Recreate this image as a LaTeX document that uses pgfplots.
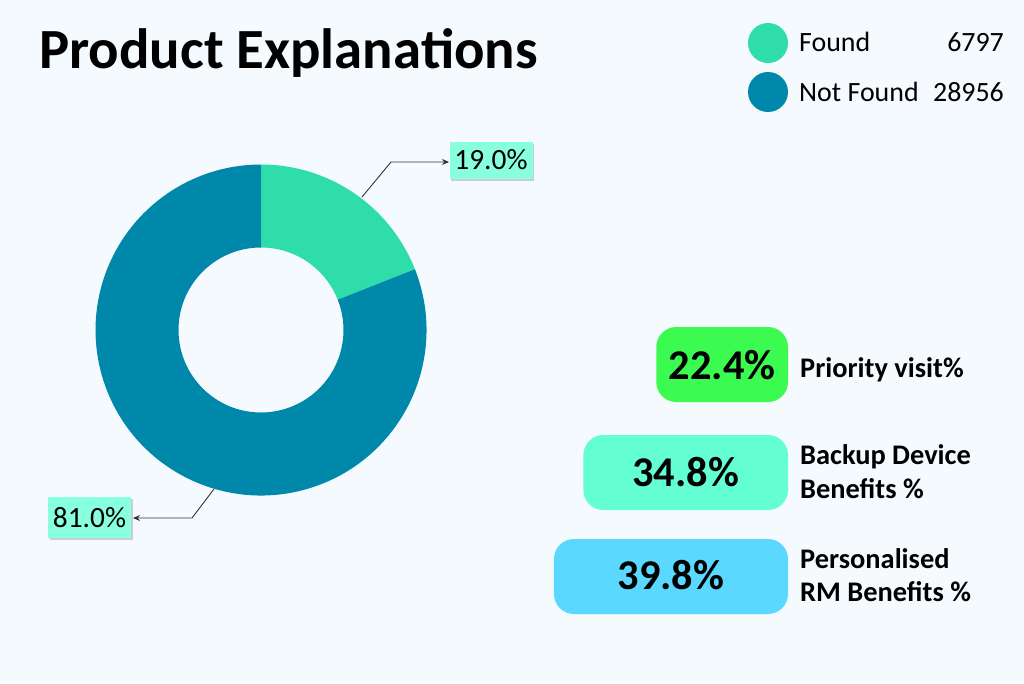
\documentclass[border=0pt]{standalone}
\usepackage{pgfplots}
\pgfplotsset{compat=1.18}
\usepackage{pgfplotstable}
\usepackage{fontspec}
\setmainfont{Carlito}
\usetikzlibrary{shadows,arrows.meta}

\definecolor{bg}{HTML}{F5FAFF}
\definecolor{found}{HTML}{2EDDAA}
\definecolor{notfound}{HTML}{0088AA}
\definecolor{lbl}{HTML}{88FFDD}
\definecolor{barA}{HTML}{3CFB50}
\definecolor{barB}{HTML}{63FFD2}
\definecolor{barC}{HTML}{5BD8FF}

\pgfplotstableread{
label value
Found 6797
NotFound 28956
}\donut

\begin{document}
\begin{tikzpicture}
\pgfplotstablegetelem{0}{value}\of\donut \let\vA\pgfplotsretval
\pgfplotstablegetelem{1}{value}\of\donut \let\vB\pgfplotsretval
\edef\angA{\fpeval{round(360*\vA/(\vA+\vB),3)}}
\edef\endA{\fpeval{90-\angA}}
\begin{axis}[at={(0,0)}, anchor=south west, width=1024bp, height=683bp, scale only axis, hide axis,
  xmin=0, xmax=1024, ymin=0, ymax=683, y dir=reverse, clip=false]
\addplot[draw=none] coordinates {(0,0) (1024,683)};
\fill[bg] (axis cs:0,0) rectangle (axis cs:1024,683);
% donut
\fill[found] (axis cs:261,164.5) arc[start angle=90, end angle=\endA, radius=165.5bp]
  -- (axis cs:{261+82.5*cos(\endA)},{330-82.5*sin(\endA)}) arc[start angle=\endA, end angle=90, radius=82.5bp] -- cycle;
\fill[notfound] (axis cs:{261+165.5*cos(\endA)},{330-165.5*sin(\endA)}) arc[start angle=\endA, end angle=-270, radius=165.5bp]
  -- (axis cs:261,247.5) arc[start angle=-270, end angle=\endA, radius=82.5bp] -- cycle;
% title
\node[anchor=base west, inner sep=0, font=\bfseries\fontsize{57}{60}\selectfont] at (axis cs:39,69) {Product Explanations};
% legend
\fill[found] (axis cs:768,43) circle[radius=20bp];
\fill[notfound] (axis cs:768,92) circle[radius=20bp];
\node[anchor=base west, inner sep=0, font=\fontsize{28}{30}\selectfont] at (axis cs:799,52) {Found};
\node[anchor=base east, inner sep=0, font=\fontsize{28}{30}\selectfont] at (axis cs:1004,52) {6797};
\node[anchor=base west, inner sep=0, font=\fontsize{28}{30}\selectfont] at (axis cs:799,101.5) {Not Found};
\node[anchor=base east, inner sep=0, font=\fontsize{28}{30}\selectfont] at (axis cs:1004,101.5) {28956};
% labels
\draw[-{Stealth[length=7bp,width=6bp]}, line width=0.9bp, black!80] (axis cs:362,197) -- (axis cs:391,162) -- (axis cs:449,162);
\node[fill=lbl, drop shadow={shadow xshift=1.5bp, shadow yshift=-1.5bp, opacity=0.35}, minimum width=83bp, minimum height=37bp, inner sep=0] at (axis cs:491,160.5) {};
\node[anchor=base, inner sep=0, font=\fontsize{29.5}{30}\selectfont] at (axis cs:491,169) {19.0\%};
\draw[-{Stealth[length=7bp,width=6bp]}, line width=0.9bp, black!80] (axis cs:214,489) -- (axis cs:192,518) -- (axis cs:133,518);
\node[fill=lbl, drop shadow={shadow xshift=1.5bp, shadow yshift=-1.5bp, opacity=0.35}, minimum width=83bp, minimum height=41bp, inner sep=0] at (axis cs:89.5,517.5) {};
\node[anchor=base, inner sep=0, font=\fontsize{29.5}{30}\selectfont] at (axis cs:89.5,527.5) {81.0\%};
% bar labels
\begin{scope}[font=\bfseries\fontsize{28.5}{30}\selectfont]
\node[anchor=base west, inner sep=0] at (axis cs:800,377) {Priority visit\%};
\node[anchor=base west, inner sep=0] at (axis cs:800,464) {Backup Device};
\node[anchor=base west, inner sep=0] at (axis cs:800,498) {Benefits \%};
\node[anchor=base west, inner sep=0] at (axis cs:800,568) {Personalised};
\node[anchor=base west, inner sep=0] at (axis cs:800,601) {RM Benefits \%};
\end{scope}
\end{axis}
\begin{axis}[at={(0,0)}, anchor=south west, width=788bp, height=683bp, scale only axis, hide axis,
  x dir=reverse, y dir=reverse, xmin=0, xmax=134, ymin=0, ymax=683, xbar, bar width=75, clip=false]
\addplot[fill=barA, draw=none, rounded corners=20bp, bar shift=0pt] coordinates {(22.4,364.5)};
\addplot[fill=barB, draw=none, rounded corners=20bp, bar shift=0pt] coordinates {(34.8,472.5)};
\addplot[fill=barC, draw=none, rounded corners=20bp, bar shift=0pt] coordinates {(39.8,576.5)};
\begin{scope}[font=\bfseries\fontsize{42.5}{48}\selectfont]
\node[anchor=base, inner sep=0] at (axis cs:11.2,379) {22.4\%};
\node[anchor=base, inner sep=0] at (axis cs:17.4,486) {34.8\%};
\node[anchor=base, inner sep=0] at (axis cs:19.9,589) {39.8\%};
\end{scope}
\end{axis}
\end{tikzpicture}
\end{document}
